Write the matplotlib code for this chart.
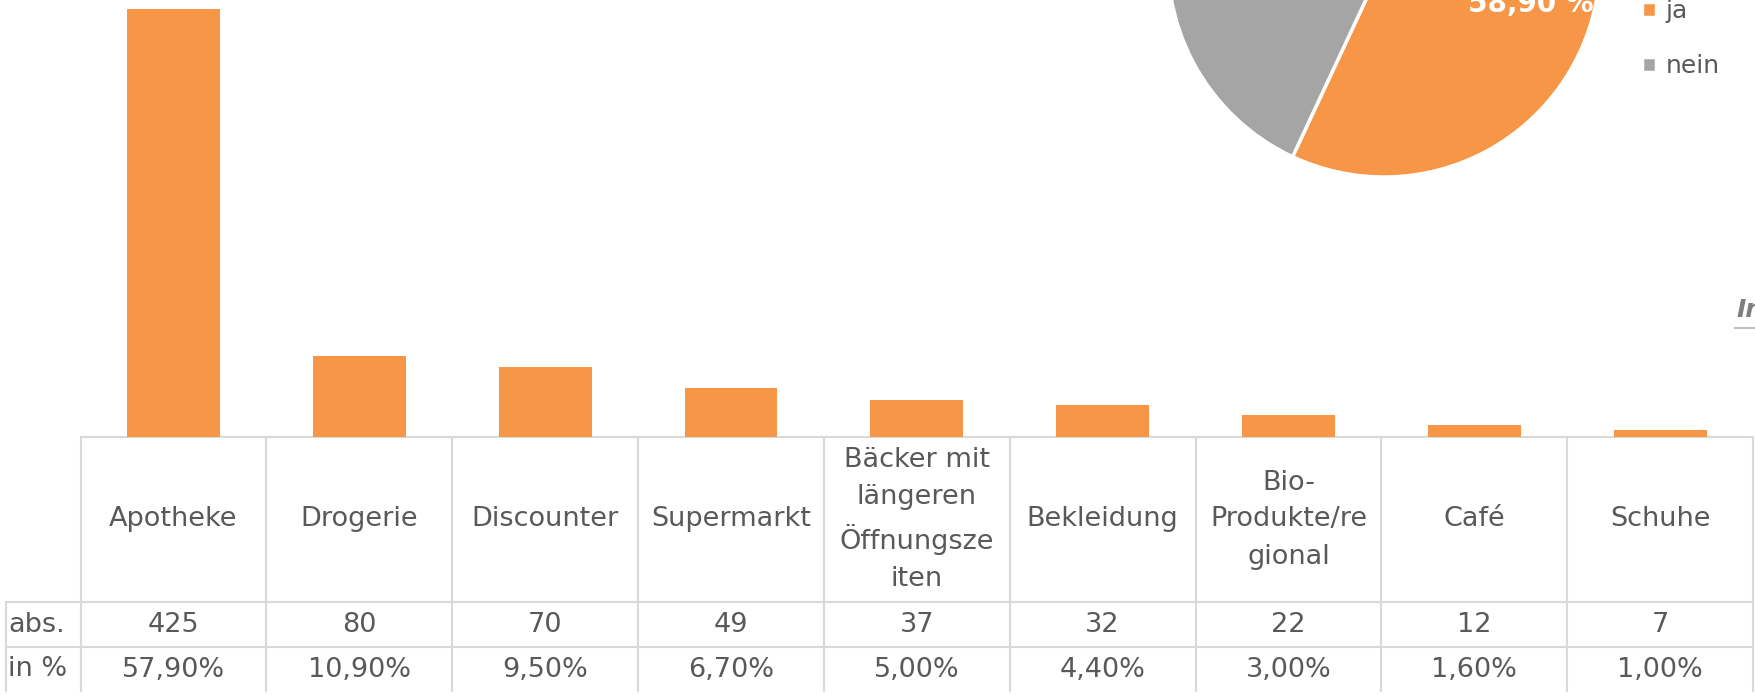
import matplotlib
matplotlib.use("Agg")
import matplotlib.pyplot as plt
from matplotlib.lines import Line2D
import numpy as np

# shop categories (table header) and answers
kategorien = ["Apotheke", "Drogerie", "Discounter", "Supermarkt",
              "Bäcker mit\nlängeren\nÖffnungsze\niten", "Bekleidung",
              "Bio-\nProdukte/re\ngional", "Café", "Schuhe"]
abs_werte = [425, 80, 70, 49, 37, 32, 22, 12, 7]
prozent = ["57,90%", "10,90%", "9,50%", "6,70%", "5,00%",
           "4,40%", "3,00%", "1,60%", "1,00%"]
zeilen = ["abs.", "in %"]

# pie: ja / nein
pie_labels = ["ja", "nein"]
pie_werte = [58.9, 41.1]

ORANGE = "#F79646"
GRAU = "#A5A5A5"
TEXT = "#595959"
LINIE = "#D9D9D9"

plt.rcParams["font.family"] = ["DejaVu Sans"]

W, H = 1755, 695
fig = plt.figure(figsize=(W / 100, H / 100), dpi=100)

# bar axes, table hangs below it
ax_w, ax_h = 1672.4, 437
ax = fig.add_axes([80.6 / W, 258 / H, ax_w / W, ax_h / H])
x = np.arange(len(kategorien))
ax.bar(x, abs_werte, width=0.5, color=ORANGE, zorder=2)
ax.set_xlim(-0.5, len(kategorien) - 0.5)
ax.set_ylim(0, 434)
ax.axis("off")

# table sizes in axes fractions
col_w = 1 / len(kategorien)
lab_w = 74.6 / ax_w
kopf_h = 165 / ax_h
zeile_h = 45 / ax_h

cell_text = [[str(v) for v in abs_werte], prozent]
tab = ax.table(cellText=cell_text, colLabels=kategorien, cellLoc="center",
               colWidths=[col_w] * len(kategorien),
               bbox=[0, -(kopf_h + 2 * zeile_h), 1, kopf_h + 2 * zeile_h])
# row labels added by hand so the bbox only covers the data columns
for i, lab in enumerate(zeilen):
    c = tab.add_cell(i + 1, -1, width=lab_w, height=zeile_h, text=lab, loc="left")
    c.PAD = 0.03
tab.auto_set_font_size(False)
tab.set_fontsize(19.5)
for (r, c), cell in tab.get_celld().items():
    cell.set_edgecolor(LINIE)
    cell.set_linewidth(1.5)
    cell.get_text().set_color(TEXT)
    cell.get_text().set_linespacing(1.55)
    cell.set_height(kopf_h if r == 0 else zeile_h)
    if r == 2:
        # last row runs past the bottom of the picture
        cell.visible_edges = "LTR"

# pie in the upper right, partly cut off by the figure edge
R = 216
cx, cy = 1384, H + 39
pax = fig.add_axes([(cx - R) / W, (cy - R) / H, 2 * R / W, 2 * R / H])
wedges, _, autotexts = pax.pie(
    pie_werte, colors=[ORANGE, GRAU], startangle=97, counterclock=False,
    autopct=lambda p: f"{p:.2f}".replace(".", ",") + " %", pctdistance=0.72,
    wedgeprops=dict(edgecolor="white", linewidth=2.5), radius=1)
for t in autotexts:
    t.set_color("white")
    t.set_fontsize(20)
    t.set_fontweight("bold")
# Excel puts the ja label a little lower than the slice middle
autotexts[0].set_position((0.68, -0.2))
pax.set_xlim(-1, 1)
pax.set_ylim(-1, 1)
pax.set_aspect("equal")

fig.legend(wedges, pie_labels, loc="center left",
           bbox_to_anchor=(1642 / W, (H - 38.7) / H), frameon=False,
           fontsize=18, labelcolor=TEXT, handlelength=0.55, handleheight=0.55,
           handletextpad=0.4, labelspacing=1.22, borderaxespad=0, borderpad=0)

# cut-off heading on the right edge
fig.text(1736 / W, (H - 310) / H, "In", fontsize=18, fontweight="bold",
         fontstyle="italic", color="#7F7F7F", va="center", ha="left")
fig.add_artist(Line2D([1735 / W, 1.0], [(H - 328) / H] * 2,
                      color="#BFBFBF", linewidth=1.5))

fig.savefig("out.png", dpi=100)
